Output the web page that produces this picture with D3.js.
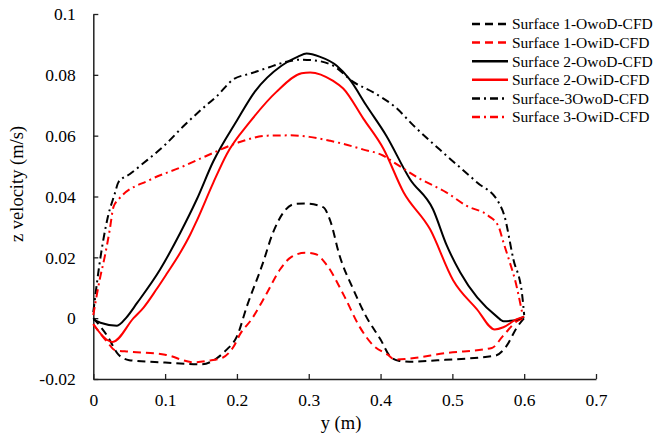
<!DOCTYPE html>
<html>
<head>
<meta charset="utf-8">
<script src="https://cdn.jsdelivr.net/npm/d3@7"></script>
<style>
  html, body { margin: 0; padding: 0; background: #fff; }
  svg { display: block; }
</style>
</head>
<body>
<svg id="chart" width="655" height="441"></svg>
<script>
// Axis ticks
const xTicks = [0, 0.1, 0.2, 0.3, 0.4, 0.5, 0.6, 0.7];
const yTicks = [-0.02, 0, 0.02, 0.04, 0.06, 0.08, 0.1];
const yTickLabels = ["-0.02", "0", "0.02", "0.04", "0.06", "0.08", "0.1"];
const xTickLabels = ["0", "0.1", "0.2", "0.3", "0.4", "0.5", "0.6", "0.7"];

// Series: [y position (m), z velocity (m/s)]
const surface1OwoD = [[0,0],[0.02,-0.006],[0.035,-0.012],[0.05,-0.0138],[0.1,-0.0146],[0.15,-0.0152],[0.17,-0.0135],
  [0.185,-0.0105],[0.2,-0.006],[0.214,0.004],[0.236,0.018],[0.25,0.028],[0.264,0.0345],[0.28,0.0375],[0.295,0.0377],
  [0.32,0.0365],[0.33,0.032],[0.343,0.0205],[0.362,0.0095],[0.38,0.0005],[0.4,-0.007],[0.413,-0.0125],[0.425,-0.014],
  [0.44,-0.0143],[0.49,-0.0137],[0.56,-0.0123],[0.575,-0.0093],[0.59,-0.003],[0.6,0]];
const surface1OwiD = [[0,-0.002],[0.02,-0.008],[0.03,-0.0105],[0.05,-0.011],[0.1,-0.012],[0.14,-0.0145],[0.16,-0.014],
  [0.18,-0.013],[0.195,-0.0095],[0.205,-0.005],[0.22,-0.0005],[0.24,0.0075],[0.26,0.016],[0.275,0.02],[0.295,0.0215],
  [0.31,0.021],[0.325,0.0175],[0.35,0.007],[0.37,-0.0025],[0.39,-0.009],[0.41,-0.012],[0.42,-0.0136],[0.44,-0.0133],
  [0.49,-0.0115],[0.555,-0.0098],[0.57,-0.006],[0.59,-0.001],[0.6,0]];
const surface2OwoD = [[0,-0.0005],[0.01,-0.0015],[0.033,-0.0025],[0.046,0.0002],[0.061,0.005],[0.093,0.016],[0.121,0.028],
  [0.144,0.039],[0.167,0.0515],[0.2,0.065],[0.225,0.0745],[0.262,0.083],[0.285,0.086],[0.297,0.087],[0.315,0.086],
  [0.339,0.083],[0.357,0.0785],[0.38,0.07],[0.408,0.06],[0.441,0.0457],[0.473,0.0358],[0.492,0.024],[0.511,0.015],
  [0.562,0.0005],[0.571,-0.001],[0.585,-0.0008],[0.6,0.0005]];
const surface2OwiD = [[0,-0.002],[0.027,-0.0078],[0.056,0],[0.07,0.0035],[0.088,0.0095],[0.102,0.0145],[0.121,0.0215],
  [0.135,0.0275],[0.144,0.032],[0.167,0.0445],[0.186,0.054],[0.218,0.0645],[0.255,0.0744],[0.29,0.0805],[0.302,0.0808],
  [0.334,0.078],[0.348,0.0755],[0.376,0.0656],[0.404,0.0557],[0.432,0.0414],[0.469,0.0292],[0.501,0.0125],[0.534,0.003],
  [0.559,-0.0037],[0.571,-0.003],[0.589,-0.0004],[0.6,0.0005]];
const surface3OwoD = [[0,0.002],[0.01,0.02],[0.02,0.033],[0.03,0.041],[0.035,0.0447],[0.051,0.0474],[0.07,0.051],[0.1,0.057],
  [0.125,0.063],[0.15,0.0685],[0.172,0.073],[0.195,0.0785],[0.22,0.0805],[0.245,0.0825],[0.264,0.084],[0.29,0.085],
  [0.315,0.0845],[0.334,0.083],[0.362,0.0777],[0.39,0.0742],[0.42,0.0695],[0.446,0.0633],[0.492,0.0534],[0.534,0.0447],
  [0.565,0.0378],[0.572,0.034],[0.585,0.0193],[0.597,0.008],[0.6,0.001]];
const surface3OwiD = [[0,0.001],[0.009,0.0128],[0.016,0.0203],[0.023,0.0292],[0.028,0.0365],[0.035,0.039],[0.079,0.0455],
  [0.121,0.0495],[0.158,0.0534],[0.204,0.0579],[0.241,0.06],[0.273,0.0601],[0.301,0.0596],[0.33,0.0583],[0.348,0.0573],
  [0.375,0.0555],[0.404,0.0534],[0.418,0.0513],[0.455,0.0458],[0.492,0.0413],[0.52,0.0369],[0.55,0.0337],[0.564,0.0303],
  [0.571,0.025],[0.58,0.0183],[0.587,0.0128],[0.597,0.002]];

const seriesNames = ["Surface 1-OwoD-CFD", "Surface 1-OwiD-CFD", "Surface 2-OwoD-CFD",
                     "Surface 2-OwiD-CFD", "Surface-3OwoD-CFD", "Surface 3-OwiD-CFD"];
const seriesData = [surface1OwoD, surface1OwiD, surface2OwoD, surface2OwiD, surface3OwoD, surface3OwiD];
const seriesColors = ["#000000", "#ff0000", "#000000", "#ff0000", "#000000", "#ff0000"];
const seriesDash = ["8,5", "8,5", null, null, "8,4,2,4", "8,4,2,4"];

const svg = d3.select("#chart");
const plotLeft = 93.3, plotRight = 596, plotTop = 14, plotBottom = 379;
const serif = "'Liberation Serif', 'Times New Roman', serif";

const x = d3.scaleLinear().domain([0, 0.7]).range([plotLeft, plotRight]);
const y = d3.scaleLinear().domain([-0.02, 0.1]).range([plotBottom, plotTop]);

// Axes with inward ticks
const xAxis = d3.axisBottom(x).tickValues(xTicks).tickSize(-5).tickSizeOuter(0)
  .tickFormat((d, i) => xTickLabels[i]);
const yAxis = d3.axisLeft(y).tickValues(yTicks).tickSize(-5).tickSizeOuter(0)
  .tickFormat((d, i) => yTickLabels[i]);

const gx = svg.append("g").attr("transform", `translate(0,${plotBottom})`).call(xAxis);
const gy = svg.append("g").attr("transform", `translate(${plotLeft},0)`).call(yAxis);

[gx, gy].forEach(g => {
  g.attr("font-family", serif).attr("font-size", 17.5);
  g.select(".domain").attr("stroke", "#222").attr("stroke-width", 1.5);
  g.selectAll(".tick line").attr("stroke", "#222").attr("stroke-width", 1.3);
  g.selectAll(".tick text").attr("fill", "#000");
});
gx.selectAll(".tick text").attr("dy", null).attr("y", 26.7);
gy.selectAll(".tick text").attr("x", -17.5).attr("dy", "0.33em");

// Axis titles
svg.append("text").attr("x", 341).attr("y", 429).attr("text-anchor", "middle")
  .attr("font-family", serif).attr("font-size", 18.5).text("y (m)");
svg.append("text").attr("transform", "translate(23,184) rotate(-90)")
  .attr("text-anchor", "middle").attr("font-family", serif).attr("font-size", 18.5)
  .text("z velocity (m/s)");

// Curves
const line = d3.line().x(d => x(d[0])).y(d => y(d[1])).curve(d3.curveMonotoneX);
seriesData.forEach((data, i) => {
  svg.append("path").datum(data)
    .attr("d", line)
    .attr("fill", "none")
    .attr("stroke", seriesColors[i])
    .attr("stroke-width", 2)
    .attr("stroke-dasharray", seriesDash[i]);
});

// Legend
const legend = svg.append("g").attr("font-family", serif).attr("font-size", 15.5);
seriesNames.forEach((name, i) => {
  const ly = 24 + i * 18.6;
  legend.append("line").attr("x1", 472).attr("x2", 508).attr("y1", ly).attr("y2", ly)
    .attr("stroke", seriesColors[i]).attr("stroke-width", 2.5)
    .attr("stroke-dasharray", seriesDash[i]);
  legend.append("text").attr("x", 512).attr("y", ly).attr("dy", "0.35em").text(name);
});
</script>
</body>
</html>
